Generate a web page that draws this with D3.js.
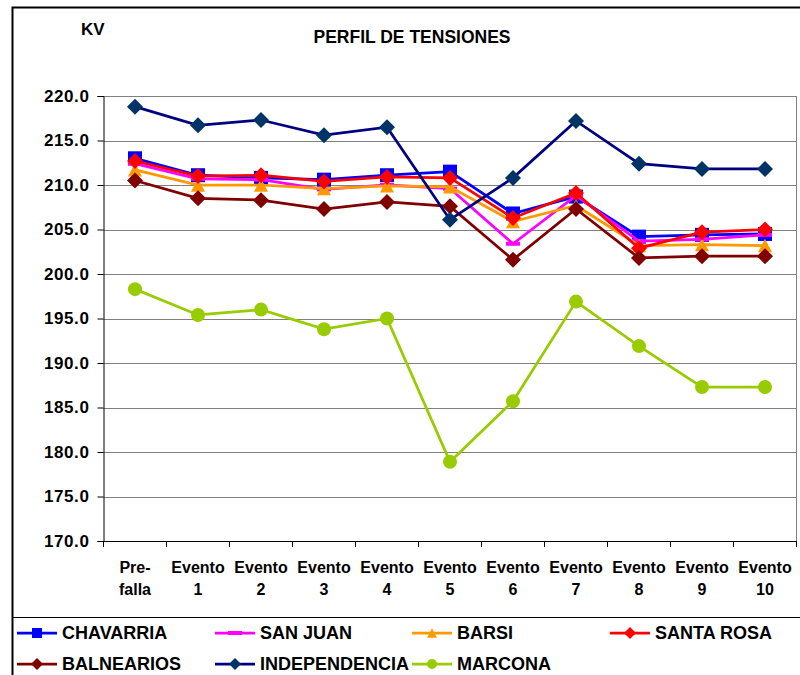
<!DOCTYPE html>
<html lang="es">
<head>
  <meta charset="UTF-8">
  <title>Perfil de tensiones</title>
  <script src="https://cdn.jsdelivr.net/npm/d3@7"></script>
  <style>
    * { margin: 0; padding: 0; box-sizing: border-box; }
    body { width: 800px; height: 675px; background: #fff; font-family: Arial, "Liberation Sans", sans-serif; }
    svg text { font-weight: bold; fill: #000; font-family: Arial, "Liberation Sans", sans-serif; }
  </style>
</head>
<body>
  <div id="chart"></div>

  <script>
    // categories and series
    const categories = ['Pre-|falla', 'Evento|1', 'Evento|2', 'Evento|3', 'Evento|4', 'Evento|5',
                        'Evento|6', 'Evento|7', 'Evento|8', 'Evento|9', 'Evento|10'];
    const yTicks = [170, 175, 180, 185, 190, 195, 200, 205, 210, 215, 220];

    const chavarria     = [213.0, 211.1, 210.8, 210.6, 211.1, 211.5, 206.8, 208.7, 204.2, 204.4, 204.5];
    const sanJuan       = [212.4, 210.7, 210.6, 209.5, 210.0, 209.6, 203.4, 208.8, 203.7, 203.9, 204.4];
    const barsi         = [211.7, 210.0, 210.0, 209.6, 209.9, 209.8, 205.9, 207.7, 203.2, 203.3, 203.2];
    const santaRosa     = [212.7, 211.0, 211.1, 210.4, 210.9, 210.8, 206.3, 209.1, 202.9, 204.7, 205.0];
    const balnearios    = [210.5, 208.5, 208.3, 207.3, 208.1, 207.6, 201.6, 207.3, 201.8, 202.0, 202.0];
    const independencia = [218.8, 216.7, 217.3, 215.6, 216.5, 206.1, 210.8, 217.2, 212.4, 211.8, 211.8];
    const marcona       = [198.3, 195.4, 196.0, 193.8, 195.0, 178.9, 185.7, 196.9, 191.9, 187.3, 187.3];

    const series = [
      { name: 'CHAVARRIA', values: chavarria, line: '#0000FF', fill: '#0000FF', marker: 'square' },
      { name: 'SAN JUAN', values: sanJuan, line: '#FF00FF', fill: '#FF00FF', marker: 'dash' },
      { name: 'BARSI', values: barsi, line: '#FF9900', fill: '#FF9900', marker: 'triangle' },
      { name: 'SANTA ROSA', values: santaRosa, line: '#FF0000', fill: '#FF0000', marker: 'diamond' },
      { name: 'BALNEARIOS', values: balnearios, line: '#800000', fill: '#800000', marker: 'diamond' },
      { name: 'INDEPENDENCIA', values: independencia, line: '#000080', fill: '#003366', marker: 'diamond' },
      { name: 'MARCONA', values: marcona, line: '#99CC00', fill: '#99CC00', marker: 'circle' }
    ];

    const width = 800, height = 675;
    const plot = { left: 103.5, right: 796.5, top: 96, bottom: 541 };

    const svg = d3.select('#chart').append('svg')
      .attr('width', width)
      .attr('height', height);

    // outer chart frame
    svg.append('path')
      .attr('d', `M12.5,${height + 2}V7.5H${width + 2}`)
      .attr('fill', 'none')
      .attr('stroke', '#000')
      .attr('stroke-width', 2);

    const x = d3.scaleBand().domain(categories).range([plot.left, plot.right]);
    const y = d3.scaleLinear().domain([170, 220]).range([plot.bottom, plot.top]);
    const cx = d => x(d) + x.bandwidth() / 2;

    // gridlines
    svg.append('g').selectAll('line')
      .data(yTicks.filter(t => t > 170))
      .join('line')
      .attr('x1', plot.left).attr('x2', plot.right)
      .attr('y1', d => Math.round(y(d)) + 0.5).attr('y2', d => Math.round(y(d)) + 0.5)
      .attr('stroke', '#808080');

    // right border of plot area
    svg.append('line')
      .attr('x1', plot.right).attr('x2', plot.right)
      .attr('y1', plot.top).attr('y2', plot.bottom)
      .attr('stroke', '#808080');

    // y axis
    const yAxis = svg.append('g')
      .attr('transform', `translate(${plot.left},0)`)
      .call(d3.axisLeft(y).tickValues(yTicks).tickFormat(d3.format('.1f')).tickSize(6).tickPadding(8));
    yAxis.select('.domain').attr('stroke', '#000');
    yAxis.selectAll('.tick line').attr('stroke', '#000');
    yAxis.selectAll('text')
      .style('font-size', '17px')
      .style('letter-spacing', '0.6px')
      .style('font-family', 'Arial, "Liberation Sans", sans-serif');

    // x axis
    const xAxis = svg.append('g')
      .attr('transform', `translate(0,${plot.bottom})`)
      .call(d3.axisBottom(x).tickSize(0).tickFormat(''));
    xAxis.select('.domain').attr('stroke', '#000');
    svg.append('g').selectAll('line')
      .data(categories)
      .join('line')
      .attr('x1', d => x(d)).attr('x2', d => x(d))
      .attr('y1', plot.bottom).attr('y2', plot.bottom + 6)
      .attr('stroke', '#000');
    svg.append('line')
      .attr('x1', plot.right).attr('x2', plot.right)
      .attr('y1', plot.bottom).attr('y2', plot.bottom + 6)
      .attr('stroke', '#000');

    const xLabels = svg.append('g').selectAll('text')
      .data(categories)
      .join('text')
      .attr('text-anchor', 'middle')
      .style('font-size', '16px');
    xLabels.append('tspan')
      .attr('x', d => cx(d)).attr('y', 573)
      .text(d => d.split('|')[0]);
    xLabels.append('tspan')
      .attr('x', d => cx(d)).attr('y', 595)
      .text(d => d.split('|')[1]);

    // markers
    function drawMarker(g, type, color, size) {
      if (type === 'square') {
        g.append('rect').attr('x', -size / 2).attr('y', -size / 2)
          .attr('width', size).attr('height', size).attr('fill', color);
      } else if (type === 'dash') {
        g.append('rect').attr('x', -size / 2).attr('y', -2)
          .attr('width', size).attr('height', 4).attr('fill', color);
      } else if (type === 'triangle') {
        const h = size * 0.95;
        g.append('path').attr('d', `M0,${-h / 2}L${size / 2},${h / 2}L${-size / 2},${h / 2}Z`).attr('fill', color);
      } else if (type === 'diamond') {
        const r = size / 2 + 1;
        g.append('path').attr('d', `M0,${-r}L${r},0L0,${r}L${-r},0Z`).attr('fill', color);
      } else if (type === 'circle') {
        g.append('circle').attr('r', size / 2).attr('fill', color);
      }
    }

    const line = d3.line()
      .x((d, i) => cx(categories[i]))
      .y(d => y(d));

    series.forEach(s => {
      const g = svg.append('g');
      g.append('path')
        .attr('d', line(s.values))
        .attr('fill', 'none')
        .attr('stroke', s.line)
        .attr('stroke-width', 2.75);
      s.values.forEach((v, i) => {
        const m = g.append('g').attr('transform', `translate(${cx(categories[i])},${y(v)})`);
        drawMarker(m, s.marker, s.fill, 14);
      });
    });

    // titles
    svg.append('text')
      .attr('x', 412).attr('y', 43)
      .attr('text-anchor', 'middle')
      .style('font-size', '17.5px')
      .text('PERFIL DE TENSIONES');
    svg.append('text')
      .attr('x', 81).attr('y', 35)
      .style('font-size', '17px')
      .text('KV');

    // legend
    svg.append('line')
      .attr('x1', 12).attr('x2', width)
      .attr('y1', 617.5).attr('y2', 617.5)
      .attr('stroke', '#000');

    const legendCols = [17, 215, 412, 610];
    const legendRows = [633, 664];
    series.forEach((s, i) => {
      const lx = legendCols[i % 4], ly = legendRows[Math.floor(i / 4)];
      const g = svg.append('g').attr('transform', `translate(${lx},${ly})`);
      g.append('line')
        .attr('x1', 0).attr('x2', 40)
        .attr('stroke', s.line).attr('stroke-width', 2.75);
      const m = g.append('g').attr('transform', 'translate(20,0)');
      drawMarker(m, s.marker, s.fill, s.marker === 'dash' ? 14 : 10);
      g.append('text')
        .attr('x', 45).attr('y', 5.5)
        .style('font-size', '18px')
        .text(s.name);
    });
  </script>
</body>
</html>
